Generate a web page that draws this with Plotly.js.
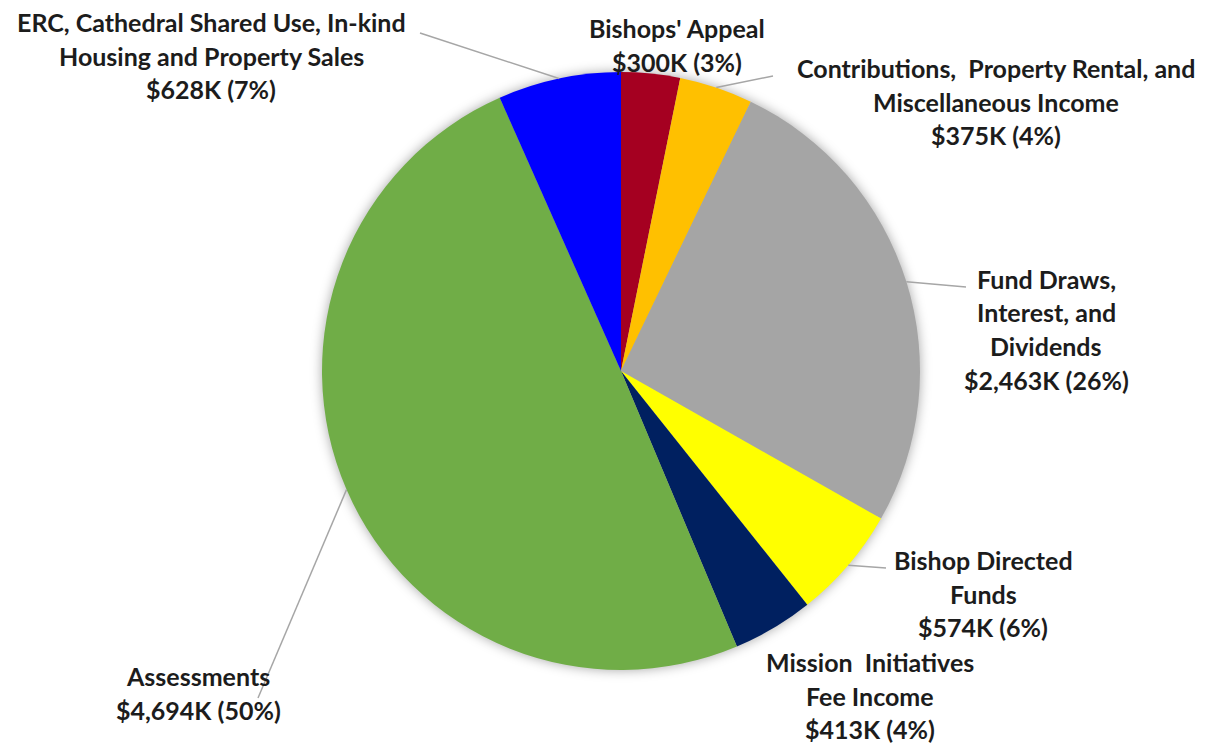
<!DOCTYPE html>
<html>
<head>
<meta charset="utf-8">
<script src="https://cdn.plot.ly/plotly-3.0.1.min.js"></script>
<style>
html,body{margin:0;padding:0;background:#fff;}
#chart{width:1225px;height:748px;}
.pielayer{filter:drop-shadow(0px 0px 6px rgba(0,0,0,0.35));}
</style>
</head>
<body>
<div id="chart"></div>
<script>
// ---- data ----
var categories = [
  "Bishops' Appeal",
  "Contributions, Property Rental, and Miscellaneous Income",
  "Fund Draws, Interest, and Dividends",
  "Bishop Directed Funds",
  "Mission Initiatives Fee Income",
  "Assessments",
  "ERC, Cathedral Shared Use, In-kind Housing and Property Sales"
];
var values = [300, 375, 2463, 574, 413, 4694, 628];
var colors = ["#A50021", "#FFC000", "#A5A5A5", "#FFFF00", "#002060", "#70AD47", "#0000FF"];
var labelLines = [
  ["Bishops' Appeal"],
  ["Contributions,  Property Rental, and", "Miscellaneous Income"],
  ["Fund Draws,", "Interest, and", "Dividends"],
  ["Bishop Directed", "Funds"],
  ["Mission  Initiatives", "Fee Income"],
  ["Assessments"],
  ["ERC, Cathedral Shared Use, In-kind", "Housing and Property Sales"]
];

// ---- layout constants (pixels) ----
var W = 1225, H = 748;
var cx = 621, cy = 371, R = 299;
var lineGap = 33.5;
// label center x, first line y
var labelPos = [
  [677, 28], [996, 68], [1046, 279], [983, 560], [870, 662], [198, 676], [211, 22]
];
// outer end of leader line (null = none)
var leaderEnd = [null, [773, 76], [966, 287], [886, 568], null, [258, 698], [420, 33]];

function px(x){ return x / W; }
function py(y){ return 1 - y / H; }

var total = values.reduce(function(a,b){return a+b;}, 0);
var annotations = [], shapes = [];
var cum = 0;
var font = {family: "Lato, 'Open Sans', sans-serif", size: 25, color: "#1c1c1c", weight: "bold"};

values.forEach(function(v, i){
  var mid = (cum + v/2) / total;
  cum += v;
  var lines = labelLines[i].slice();
  lines.push("$" + v.toLocaleString("en-US") + "K (" + Math.round(v/total*100) + "%)");
  lines.forEach(function(t, k){
    annotations.push({
      xref: "paper", yref: "paper",
      x: px(labelPos[i][0]), y: py(labelPos[i][1] + k*lineGap),
      xanchor: "center", yanchor: "middle",
      text: "<b>" + t.replace(/  /g, "&nbsp; ") + "</b>", showarrow: false, font: font
    });
  });
  if (leaderEnd[i]) {
    var ang = mid * 2 * Math.PI;
    var ex = cx + R * Math.sin(ang), ey = cy - R * Math.cos(ang);
    shapes.push({
      type: "line", xref: "paper", yref: "paper",
      x0: px(ex), y0: py(ey), x1: px(leaderEnd[i][0]), y1: py(leaderEnd[i][1]),
      line: {color: "#A6A6A6", width: 1.5}
    });
  }
});

var trace = {
  type: "pie",
  labels: categories,
  values: values,
  sort: false,
  direction: "clockwise",
  rotation: 0,
  textinfo: "none",
  hoverinfo: "label+value+percent",
  marker: {colors: colors, line: {width: 0}},
  domain: {x: [px(cx - R), px(cx + R)], y: [py(cy + R), py(cy - R)]},
  showlegend: false
};

var layout = {
  width: W, height: H,
  margin: {l: 0, r: 0, t: 0, b: 0},
  paper_bgcolor: "#ffffff",
  showlegend: false,
  annotations: annotations,
  shapes: shapes
};

Plotly.newPlot("chart", [trace], layout, {displayModeBar: false, staticPlot: true});
</script>
</body>
</html>
